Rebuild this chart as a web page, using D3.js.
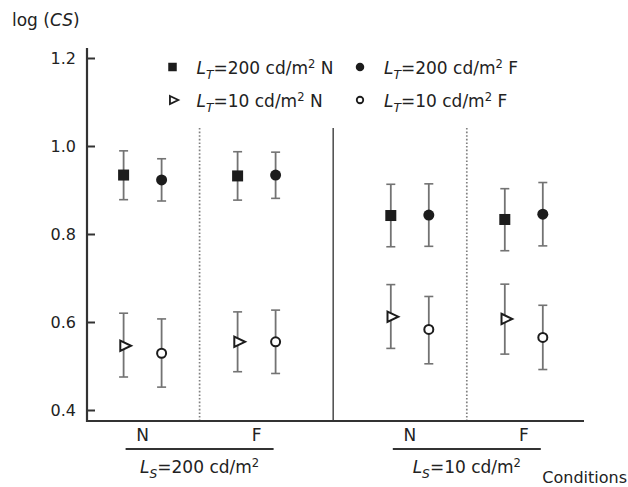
<!DOCTYPE html>
<html>
<head>
<meta charset="utf-8">
<script src="https://cdn.jsdelivr.net/npm/d3@7"></script>
<style>
  body { margin: 0; background: #fff; }
  svg { font-family: "DejaVu Sans", sans-serif; }
</style>
</head>
<body>
<svg id="chart"></svg>
<script>
// chart size
w = 628;
h = 487;

// conditions along the x axis
var lsGroups = ["200", "10"];        // surround luminance Ls (cd/m2)
var viewConds = ["N", "F"];          // condition within each Ls group
var yTicks = [0.4, 0.6, 0.8, 1.0, 1.2];

// series values, one per condition: Ls200 N, Ls200 F, Ls10 N, Ls10 F
var lt200N_mean = [0.934, 0.932, 0.842, 0.833];
var lt200N_hi   = [0.989, 0.987, 0.913, 0.903];
var lt200N_lo   = [0.878, 0.877, 0.771, 0.762];

var lt200F_mean = [0.923, 0.934, 0.843, 0.845];
var lt200F_hi   = [0.971, 0.986, 0.914, 0.917];
var lt200F_lo   = [0.875, 0.881, 0.772, 0.773];

var lt10N_mean = [0.546, 0.555, 0.612, 0.607];
var lt10N_hi   = [0.620, 0.623, 0.685, 0.686];
var lt10N_lo   = [0.475, 0.487, 0.540, 0.527];

var lt10F_mean = [0.529, 0.555, 0.583, 0.565];
var lt10F_hi   = [0.607, 0.627, 0.658, 0.638];
var lt10F_lo   = [0.452, 0.483, 0.505, 0.492];

var series = [
  { lt: "200", view: "N", shape: "square",   mean: lt200N_mean, hi: lt200N_hi, lo: lt200N_lo },
  { lt: "200", view: "F", shape: "dot",      mean: lt200F_mean, hi: lt200F_hi, lo: lt200F_lo },
  { lt: "10",  view: "N", shape: "triangle", mean: lt10N_mean,  hi: lt10N_hi,  lo: lt10N_lo },
  { lt: "10",  view: "F", shape: "ring",     mean: lt10F_mean,  hi: lt10F_hi,  lo: lt10F_lo }
];

var axisColor = "#333";
var barColor = "#737373";
var ink = "#1c1c1c";

var svg = d3.select("#chart").attr("width", w).attr("height", h);

// scales
var x0 = 87, x1 = 584, yBase = 421, yTop = 48;
var y = d3.scaleLinear().domain([0.4, 1.2]).range([410, 58]);
var xGroup = d3.scalePoint().domain(lsGroups).range([x0, x1]).padding(0.43).align(0.49);
var xView = d3.scalePoint().domain(viewConds).range([-57, 57]);
var xSeries = d3.scalePoint().domain(["N", "F"]).range([-19, 19]);

function condX(i) {
  return xGroup(lsGroups[Math.floor(i / 2)]) + xView(viewConds[i % 2]);
}

// dividers
lsGroups.forEach(function(g) {
  svg.append("line")
      .attr("x1", xGroup(g)).attr("x2", xGroup(g))
      .attr("y1", 128).attr("y2", yBase)
      .attr("stroke", "#808080")
      .attr("stroke-width", 1.7)
      .attr("stroke-dasharray", "1.6,2");
});
var mid = (xGroup(lsGroups[0]) + xGroup(lsGroups[1])) / 2;
svg.append("line")
    .attr("x1", mid).attr("x2", mid)
    .attr("y1", 128).attr("y2", yBase)
    .attr("stroke", "#555")
    .attr("stroke-width", 1.6);

// y axis (ticks point inwards)
var yAxis = d3.axisLeft(y).tickValues(yTicks).tickFormat(d3.format(".1f"))
    .tickSizeInner(-8).tickSizeOuter(0).tickPadding(11);
var gy = svg.append("g").attr("transform", "translate(" + x0 + ",0)").call(yAxis);
gy.select(".domain").remove();
gy.selectAll(".tick line").attr("stroke", axisColor).attr("stroke-width", 2);
gy.selectAll(".tick text").attr("font-size", 16).attr("fill", "#222")
    .attr("font-family", "DejaVu Sans, sans-serif");
svg.append("line")
    .attr("x1", x0).attr("x2", x0).attr("y1", yTop).attr("y2", yBase + 1)
    .attr("stroke", axisColor).attr("stroke-width", 2.2);
svg.append("line")
    .attr("x1", x0).attr("x2", x1).attr("y1", yBase).attr("y2", yBase)
    .attr("stroke", axisColor).attr("stroke-width", 2.2);

svg.append("text")
    .attr("x", 12).attr("y", 26)
    .attr("font-size", 17).attr("fill", "#222")
    .call(function(t) {
      t.append("tspan").text("log (");
      t.append("tspan").attr("font-style", "italic").text("CS");
      t.append("tspan").text(")");
    });

// marker drawing
function drawMarker(g, shape, s) {
  if (shape === "square") {
    g.append("rect").attr("x", -s / 2).attr("y", -s / 2).attr("width", s).attr("height", s)
        .attr("fill", ink);
  } else if (shape === "dot") {
    g.append("circle").attr("r", s / 2).attr("fill", ink);
  } else if (shape === "triangle") {
    var a = s * 0.3, b = s * 0.68, c = s * 0.47;
    g.append("path").attr("d", "M" + (-a) + "," + (-c) + "L" + b + ",0L" + (-a) + "," + c + "Z")
        .attr("fill", "#fff").attr("stroke", ink).attr("stroke-width", s > 9 ? 2 : 1.8)
        .attr("stroke-linejoin", "miter");
  } else {
    g.append("circle").attr("r", s / 2 - 1).attr("fill", "#fff")
        .attr("stroke", ink).attr("stroke-width", s > 9 ? 2 : 1.8);
  }
}

// error bars and markers
series.forEach(function(sr) {
  var dx = xSeries(sr.view);
  var g = svg.append("g");
  sr.mean.forEach(function(m, i) {
    var cx = condX(i) + dx;
    g.append("line")
        .attr("x1", cx).attr("x2", cx)
        .attr("y1", y(sr.hi[i])).attr("y2", y(sr.lo[i]))
        .attr("stroke", barColor).attr("stroke-width", 1.8);
    [sr.hi[i], sr.lo[i]].forEach(function(v) {
      g.append("line")
          .attr("x1", cx - 4.5).attr("x2", cx + 4.5)
          .attr("y1", y(v)).attr("y2", y(v))
          .attr("stroke", barColor).attr("stroke-width", 1.6);
    });
    var mk = g.append("g").attr("transform", "translate(" + cx + "," + y(m) + ")");
    drawMarker(mk, sr.shape, 11);
  });
});

// L_T / L_S label helper
function lumLabel(t, sub, value, tail) {
  t.append("tspan").attr("font-style", "italic").text("L");
  t.append("tspan").attr("font-style", "italic").attr("font-size", "72%").attr("dy", 5).text(sub);
  t.append("tspan").attr("dy", -5).text("=" + value + " cd/m");
  t.append("tspan").attr("font-size", "68%").attr("dy", -6).text("2");
  if (tail) t.append("tspan").attr("dy", 6).text(" " + tail);
}

// legend
var legendX = [172.5, 360];
var legendY = [67, 100];
series.forEach(function(sr, i) {
  var col = i % 2, row = Math.floor(i / 2);
  var mk = svg.append("g").attr("transform", "translate(" + legendX[col] + "," + legendY[row] + ")");
  drawMarker(mk, sr.shape, 8.5);
  svg.append("text")
      .attr("x", legendX[col] + 24).attr("y", legendY[row] + 7)
      .attr("font-size", 17).attr("fill", "#222")
      .call(lumLabel, "T", sr.lt, sr.view);
});

// x labels
for (var i = 0; i < 4; i++) {
  svg.append("text")
      .attr("x", condX(i)).attr("y", 441)
      .attr("text-anchor", "middle")
      .attr("font-size", 17).attr("fill", "#222")
      .text(viewConds[i % 2]);
}
lsGroups.forEach(function(g) {
  svg.append("line")
      .attr("x1", xGroup(g) - 74).attr("x2", xGroup(g) + 74)
      .attr("y1", 449).attr("y2", 449)
      .attr("stroke", axisColor).attr("stroke-width", 2);
  svg.append("text")
      .attr("x", xGroup(g)).attr("y", 473)
      .attr("text-anchor", "middle")
      .attr("font-size", 17).attr("fill", "#222")
      .call(lumLabel, "S", g, null);
});
svg.append("text")
    .attr("x", 627).attr("y", 483)
    .attr("text-anchor", "end")
    .attr("font-size", 16).attr("fill", "#222")
    .text("Conditions");
</script>
</body>
</html>
